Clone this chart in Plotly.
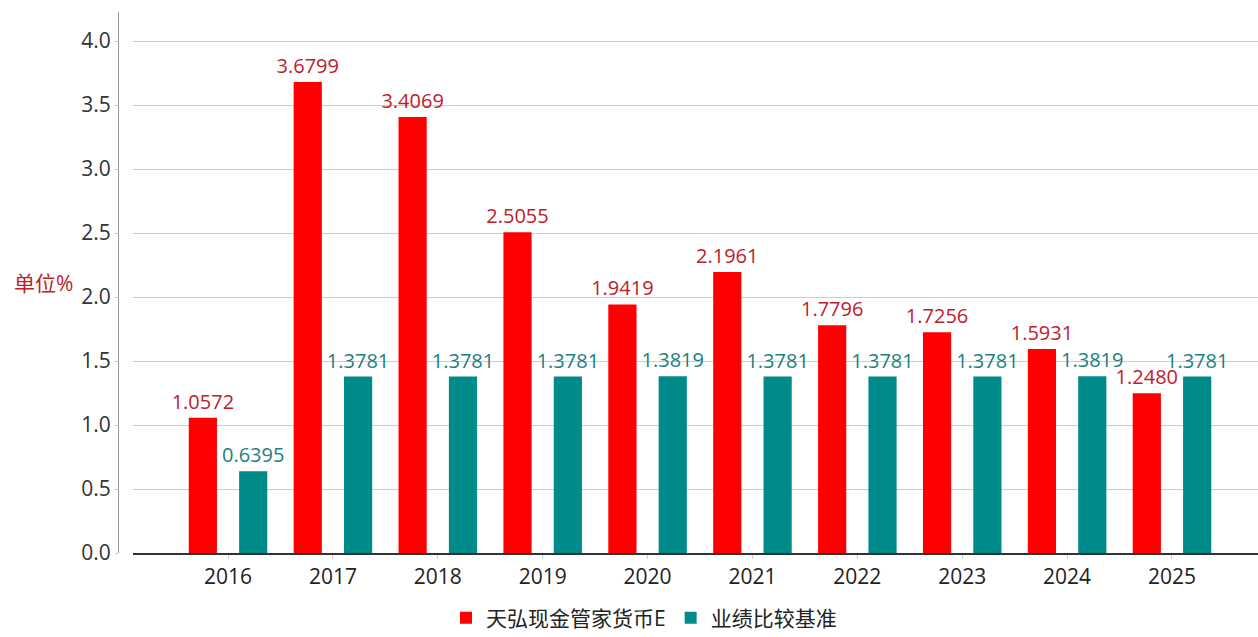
import plotly.graph_objects as go

years = ["2016", "2017", "2018", "2019", "2020", "2021", "2022", "2023", "2024", "2025"]
fund_vals = [1.0572, 3.6799, 3.4069, 2.5055, 1.9419, 2.1961, 1.7796, 1.7256, 1.5931, 1.2480]
bench_vals = [0.6395, 1.3781, 1.3781, 1.3781, 1.3819, 1.3781, 1.3781, 1.3781, 1.3819, 1.3781]
fund_name = "天弘现金管家货币E"
bench_name = "业绩比较基准"
y_ticks = [0.0, 0.5, 1.0, 1.5, 2.0, 2.5, 3.0, 3.5, 4.0]

FONT = "Open Sans, Noto Sans CJK SC, sans-serif"

fig = go.Figure()
fig.add_trace(go.Bar(
    x=years, y=fund_vals, name=fund_name,
    marker=dict(color="#ff0000", line=dict(width=0)),
    text=[f"{v:.4f}" for v in fund_vals], textposition="outside",
    constraintext="none",
    textfont=dict(color="#c0202a", size=20, family=FONT),
    cliponaxis=False,
))
fig.add_trace(go.Bar(
    x=years, y=bench_vals, name=bench_name,
    marker=dict(color="#008b8b", line=dict(width=0)),
    text=[f"{v:.4f}" for v in bench_vals], textposition="outside",
    constraintext="none",
    textfont=dict(color="#1b8080", size=20, family=FONT),
    cliponaxis=False,
))

fig.update_layout(
    width=1258, height=637,
    margin=dict(l=118, r=0, t=12, b=84, autoexpand=False),
    plot_bgcolor="white", paper_bgcolor="white",
    barmode="group", bargap=0.04, bargroupgap=0.44,
    font=dict(family=FONT, color="#333333"),
    xaxis=dict(
        type="category", domain=[0.01316, 1], range=[-0.906, 9.82],
        showline=True, linecolor="#333333", linewidth=1.5,
        ticks="outside", ticklen=4, tickcolor="#cccccc",
        tickfont=dict(size=21, color="#222222"),
        showgrid=False, automargin=False,
    ),
    yaxis=dict(
        anchor="free", position=0, range=[0, 4.227],
        tickvals=y_ticks, ticktext=[f"{v:.1f}" for v in y_ticks],
        showline=True, linecolor="#999999", linewidth=1,
        ticks="outside", ticklen=3, tickcolor="#cccccc",
        tickfont=dict(size=21, color="#333333"),
        showgrid=True, gridcolor="#cccccc", gridwidth=1,
        zeroline=False, automargin=False,
    ),
    legend=dict(
        orientation="h", x=0.4614, xanchor="center", y=-(618 - 553) / 541, yanchor="middle",
        font=dict(size=21, color="#222222"), itemwidth=30,
        traceorder="normal",
    ),
    annotations=[dict(
        text="单位%", xref="paper", yref="paper", x=-0.093, y=(553 - 283) / 541,
        xanchor="left", yanchor="middle", showarrow=False,
        font=dict(size=21, color="#c0202a", family=FONT),
    )],
)

fig.write_html(
    "out.html",
    config={"displayModeBar": False},
    post_script="document.body.style.margin='0px';document.body.style.overflow='hidden';",
)
